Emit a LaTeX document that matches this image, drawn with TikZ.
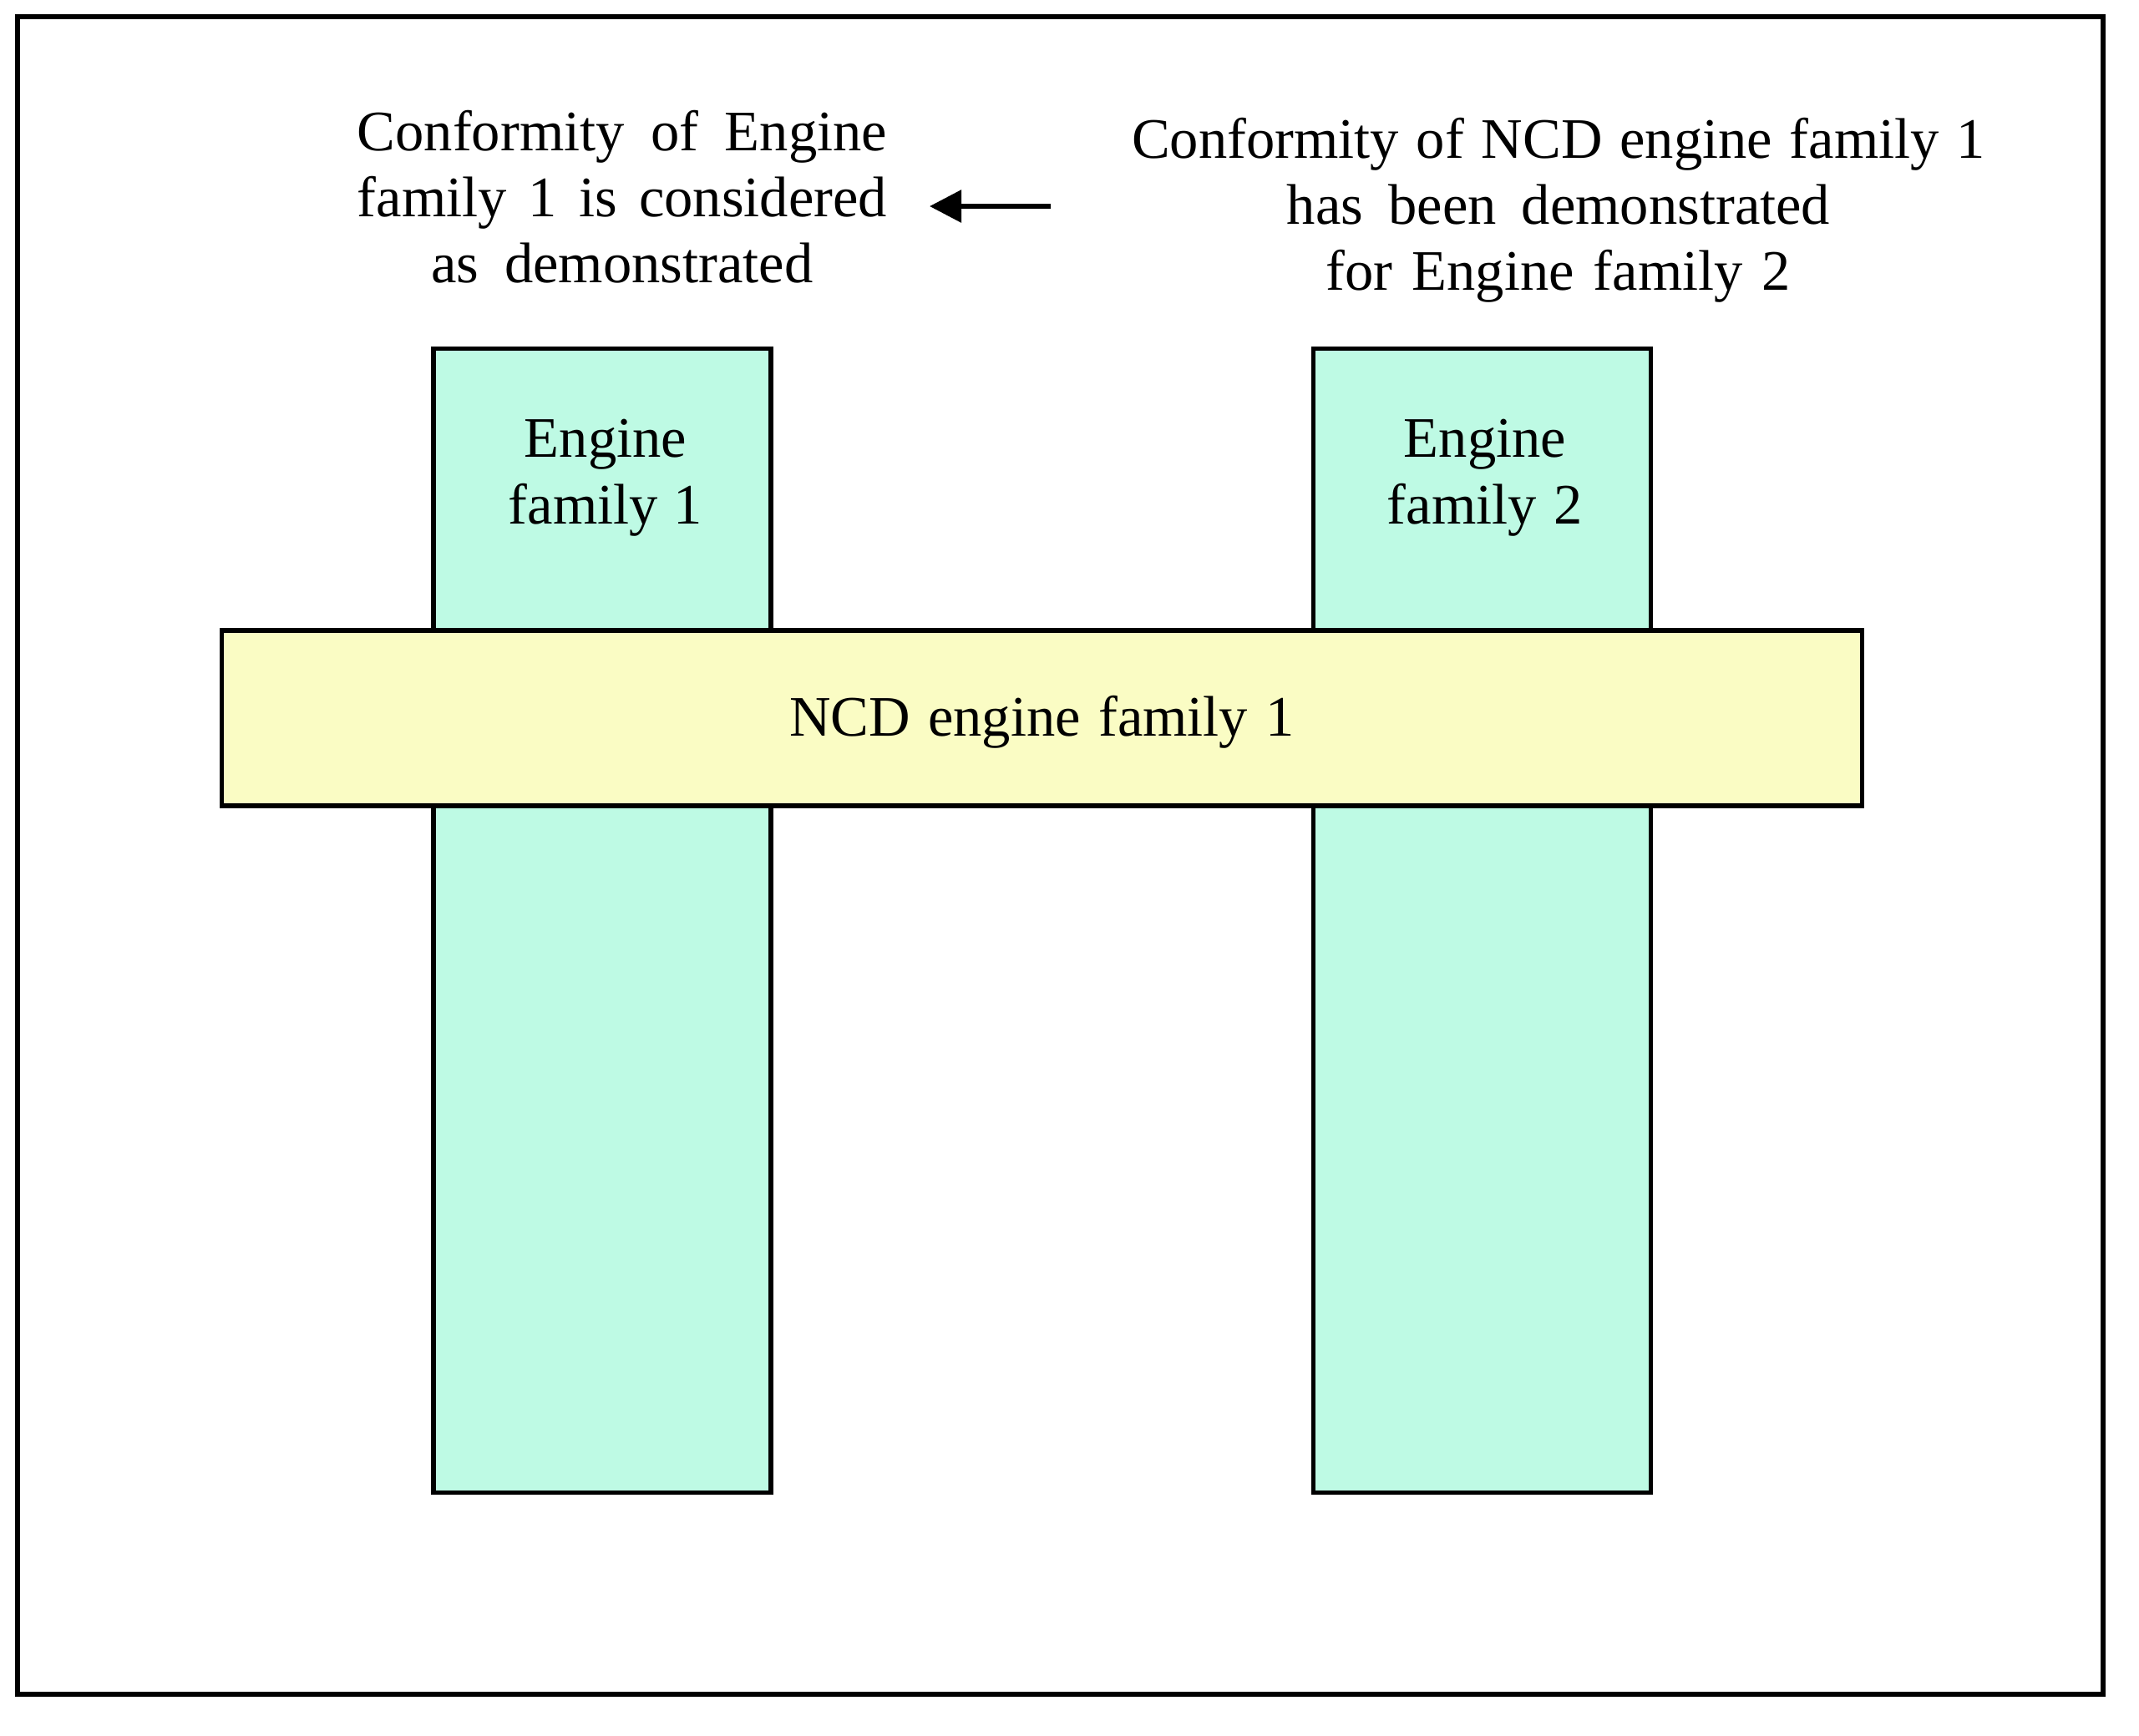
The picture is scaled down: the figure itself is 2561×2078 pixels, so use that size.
\documentclass[tikz,border=0pt]{standalone}
\usepackage{fontspec}
\setmainfont{Liberation Serif}[WordSpace=1.6]
\usetikzlibrary{arrows.meta}
\definecolor{mint}{RGB}{190,250,228}
\definecolor{paleyellow}{RGB}{250,252,196}
\hbadness=10000
\hfuzz=30pt
\newcommand{\jline}[2]{\makebox[#1][s]{\strut #2}}
\begin{document}
\begin{tikzpicture}[x=0.01cm,y=-0.01cm,
  txt/.style={font=\fontsize{19.5}{22.5}\selectfont, align=center, inner sep=0pt},
  column/.style={draw=black, line width=1.5pt, fill=mint, minimum width=4.04cm, minimum height=13.69cm, inner sep=0pt},
  barbox/.style={draw=black, line width=1.5pt, fill=paleyellow, minimum width=19.63cm, minimum height=2.10cm, inner sep=0pt,
    font=\fontsize{19.5}{22.5}\selectfont, text height=14pt, text depth=1.5pt},
  frame/.style={draw=black, line width=1.5pt},
  pointer/.style={line width=1.7pt, -{Triangle[length=0.38cm,width=0.38cm]}}
  ]
\useasboundingbox (0,0) rectangle (2561,2078);
\draw[frame] (21,20) rectangle (2518,2029);
\node[column] (col1) at (721,1102.5) {};
\node[column] (col2) at (1774.5,1102.5) {};
\node[barbox] (bar) at (1247.5,860) {\makebox[6.04cm][s]{NCD engine family 1}};
\node[txt] (lbl1) at (725,571.7) {\strut Engine\\\jline{2.32cm}{family 1}};
\node[txt] (lbl2) at (1778,571.7) {\strut Engine\\\jline{2.34cm}{family 2}};
\node[txt] (leftnote) at (745,243.3) {\jline{6.34cm}{Conformity of Engine}\\\jline{6.34cm}{family 1 is considered}\\\jline{4.57cm}{as demonstrated}};
\node[txt] (rightnote) at (1866,252.3) {\jline{10.21cm}{Conformity of NCD engine family 1}\\\jline{6.50cm}{has been demonstrated}\\\jline{5.56cm}{for Engine family 2}};
\coordinate (arrS) at (1258,247);
\coordinate (arrE) at (1113,247);
\draw[pointer] (arrS) -- (arrE);
\end{tikzpicture}
\end{document}
